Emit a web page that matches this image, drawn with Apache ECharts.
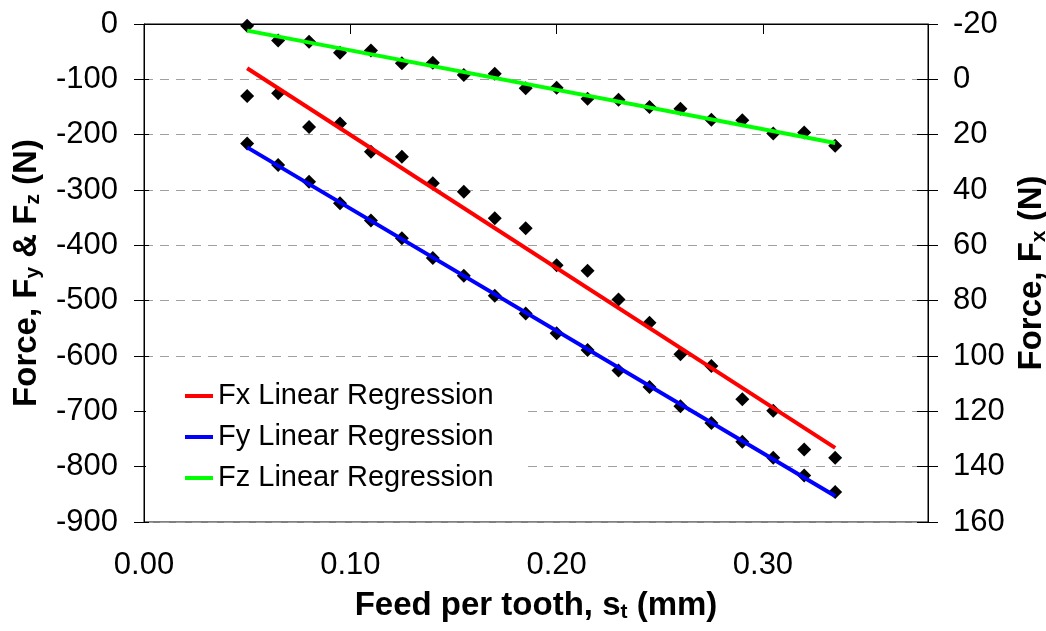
<!DOCTYPE html>
<html>
<head>
<meta charset="utf-8">
<script src="https://cdn.jsdelivr.net/npm/echarts@6/dist/echarts.min.js"></script>
<style>html,body{margin:0;padding:0;background:#fff}#c{width:1046px;height:631px}</style>
</head>
<body>
<div id="c"></div>
<script>
// Feed per tooth (mm)
var feed = [0.05,0.065,0.08,0.095,0.11,0.125,0.14,0.155,0.17,0.185,0.2,0.215,0.23,0.245,0.26,0.275,0.29,0.305,0.32,0.335];
// Fx measured (N) - right axis
var fxPts = [6,5,17.2,16,26.2,28,37.6,40.6,50.2,53.8,67.2,69.2,79.6,88,99.4,103.6,115.6,119.8,133.8,136.8];
// Fy measured (N) - left axis
var fyPts = [-216,-255,-285,-324,-355,-387,-423,-455,-491,-523,-559,-589,-626,-656,-691,-721,-755,-784,-816,-846];
// Fz measured (N) - left axis
var fzPts = [-3,-30,-32,-52,-48,-71,-70,-92,-90,-116,-115,-135,-137,-150,-153,-173,-174,-198,-196,-220];
// Regression line end points [start, end]
var lineX = [0.05, 0.335];
var fxLine = [-4, 133.2];
var fyLine = [-223, -853];
var fzLine = [-12, -215];
var xTicks = [0, 0.1, 0.2, 0.3];
var names = ['Fx Linear Regression','Fy Linear Regression','Fz Linear Regression'];

var FONT = 'Liberation Sans, Arial, sans-serif';
function pairs(xs, ys){ return xs.map(function(x,i){ return [x, ys[i]]; }); }
var titleRich = {
  b: {fontSize: 33, fontWeight: 'bold', fontFamily: FONT, color: '#000', lineHeight: 35},
  s: {fontSize: 21, fontWeight: 'bold', fontFamily: FONT, color: '#000', verticalAlign: 'bottom', lineHeight: 12}
};
var scatterStyle = {symbol: 'diamond', symbolSize: 14, itemStyle: {color: '#000', opacity: 1}, z: 2};

var chart = echarts.init(document.getElementById('c'), null, {renderer: 'canvas'});
chart.setOption({
  animation: false,
  backgroundColor: '#fff',
  grid: {left: 144, right: 118, top: 24, bottom: 109, show: true, borderColor: '#000', borderWidth: 1, outerBoundsMode: 'none'},
  legend: {
    orient: 'vertical', left: 146, top: 369,
    padding: [12, 30, 14, 39],
    backgroundColor: '#fff',
    itemWidth: 28, itemHeight: 4, itemGap: 11, icon: 'rect',
    data: names,
    textStyle: {fontSize: 29, fontFamily: FONT, color: '#000', lineHeight: 30}
  },
  xAxis: {
    type: 'value', min: 0, max: 0.38, interval: 0.1,
    name: '{b|Feed per tooth, s}{s|t}{b| (mm)}',
    nameLocation: 'middle', nameGap: 66,
    nameTextStyle: {rich: titleRich},
    axisLine: {lineStyle: {color: '#000', width: 1}},
    axisTick: {show: true, length: 10, lineStyle: {color: '#000'}, customValues: xTicks},
    axisLabel: {fontSize: 31, fontFamily: FONT, color: '#000', margin: 28, customValues: xTicks,
      formatter: function(v){ return v.toFixed(2); }},
    splitLine: {show: false}
  },
  yAxis: [{
    type: 'value', min: -900, max: 0, interval: 100, position: 'left',
    name: '{b|Force, F}{s|y}{b| & F}{s|z}{b| (N)}',
    nameLocation: 'middle', nameGap: 100, nameRotate: 90,
    nameTextStyle: {rich: titleRich},
    axisLine: {show: true, lineStyle: {color: '#000', width: 1}},
    axisTick: {show: true, length: 10, lineStyle: {color: '#000'}},
    axisLabel: {fontSize: 31, fontFamily: FONT, color: '#000', margin: 26},
    splitLine: {show: true, lineStyle: {color: '#a0a0a0', width: 1, type: [9, 7]}}
  }, {
    type: 'value', min: -20, max: 160, interval: 20, position: 'right', inverse: true,
    name: '{b|Force, F}{s|x}{b| (N)}',
    nameLocation: 'middle', nameGap: 72, nameRotate: 90,
    nameTextStyle: {rich: titleRich},
    axisLine: {show: true, lineStyle: {color: '#000', width: 1}},
    axisTick: {show: true, length: 10, lineStyle: {color: '#000'}},
    axisLabel: {fontSize: 31, fontFamily: FONT, color: '#000', margin: 25},
    splitLine: {show: false}
  }, {
    type: 'value', min: -20, max: 160, interval: 20, position: 'right', inverse: true,
    axisLine: {show: false},
    axisTick: {show: true, inside: true, length: 11, lineStyle: {color: '#000'}},
    axisLabel: {show: false},
    splitLine: {show: false}
  }, {
    type: 'value', min: -900, max: 0, interval: 100, position: 'left',
    axisLine: {show: false},
    axisTick: {show: true, inside: true, length: 5, lineStyle: {color: '#000'}},
    axisLabel: {show: false},
    splitLine: {show: false}
  }],
  series: [
    Object.assign({type: 'scatter', name: 'Fx data', yAxisIndex: 1, data: pairs(feed, fxPts)}, scatterStyle),
    Object.assign({type: 'scatter', name: 'Fy data', yAxisIndex: 0, data: pairs(feed, fyPts)}, scatterStyle),
    Object.assign({type: 'scatter', name: 'Fz data', yAxisIndex: 0, data: pairs(feed, fzPts)}, scatterStyle),
    {type: 'line', name: names[0], yAxisIndex: 1, data: pairs(lineX, fxLine), showSymbol: false, symbol: 'none',
      lineStyle: {color: '#ff0000', width: 4}, itemStyle: {color: '#ff0000'}, z: 3},
    {type: 'line', name: names[1], yAxisIndex: 0, data: pairs(lineX, fyLine), showSymbol: false, symbol: 'none',
      lineStyle: {color: '#0000ff', width: 4}, itemStyle: {color: '#0000ff'}, z: 3},
    {type: 'line', name: names[2], yAxisIndex: 0, data: pairs(lineX, fzLine), showSymbol: false, symbol: 'none',
      lineStyle: {color: '#00ff00', width: 4}, itemStyle: {color: '#00ff00'}, z: 3}
  ]
});
</script>
</body>
</html>
